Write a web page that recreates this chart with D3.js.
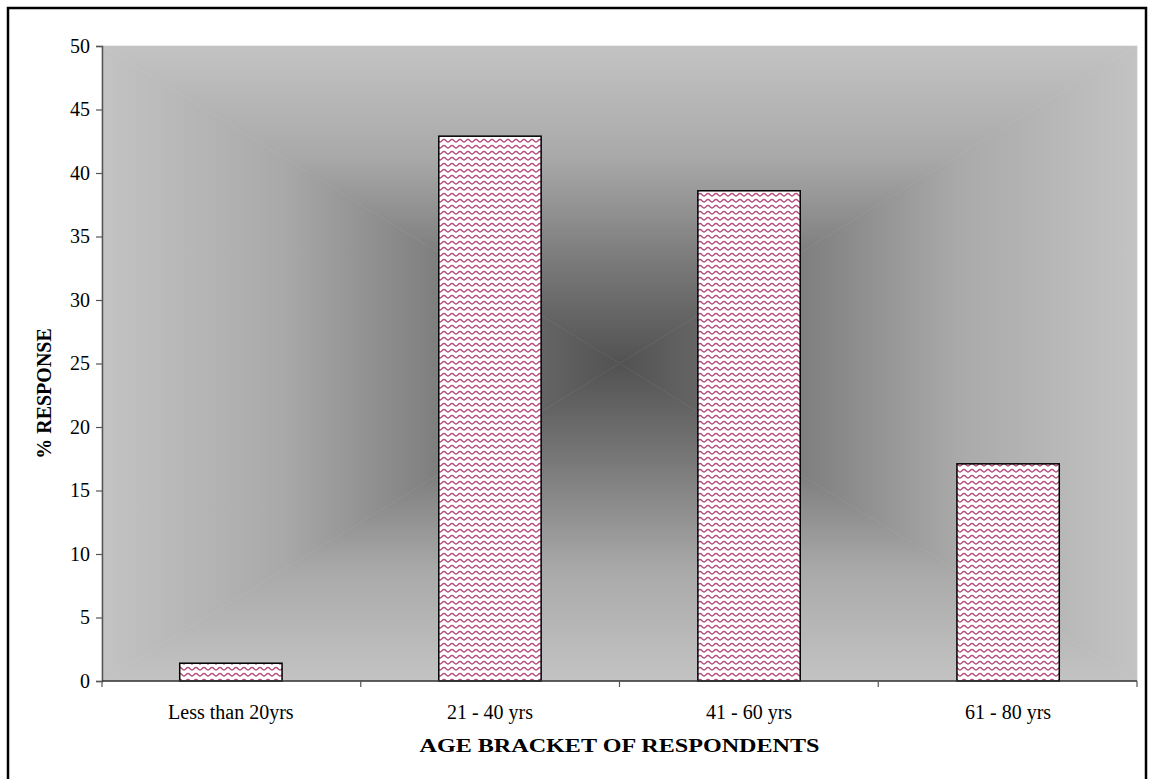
<!DOCTYPE html>
<html>
<head>
<meta charset="utf-8">
<script src="https://cdn.jsdelivr.net/npm/d3@7"></script>
<style>
  html, body { margin: 0; padding: 0; background: #fff; }
  svg { display: block; font-family: "Liberation Serif", "Times New Roman", serif; }
</style>
</head>
<body>
<svg id="chart" width="1153" height="779"></svg>
<script>
// Age distribution of respondents (% response)
const categories = ["Less than 20yrs", "21 - 40 yrs", "41 - 60 yrs", "61 - 80 yrs"];
const values = [1.4, 42.9, 38.6, 17.1];
const yTicks = [0, 5, 10, 15, 20, 25, 30, 35, 40, 45, 50];
const xTitle = "AGE BRACKET OF RESPONDENTS";
const yTitle = "% RESPONSE";

const svg = d3.select("#chart");
const plot = { left: 102, right: 1137, top: 46, bottom: 681 };

const x = d3.scaleBand().domain(categories).range([plot.left, plot.right]).paddingInner(0.605).paddingOuter(0.3);
const y = d3.scaleLinear().domain([0, 50]).range([plot.bottom, plot.top]);

const defs = svg.append("defs");

// Outer chart border
svg.append("rect")
  .attr("x", 8).attr("y", 8).attr("width", 1138).attr("height", 790)
  .attr("fill", "#fff").attr("stroke", "#000").attr("stroke-width", 2.5);

// Rectangular "from centre" gradient: four triangles, each shaded toward the centre
const stops = [[0, "#c3c3c3"], [0.35, "#a9a9a9"], [0.7, "#777"], [1, "#525252"]];
const cx = (plot.left + plot.right) / 2, cy = (plot.top + plot.bottom) / 2;
const tris = [
  { id: "gT", pts: [[plot.left, plot.top], [plot.right, plot.top], [cx, cy]], p1: [cx, plot.top], p2: [cx, cy] },
  { id: "gB", pts: [[plot.left, plot.bottom], [plot.right, plot.bottom], [cx, cy]], p1: [cx, plot.bottom], p2: [cx, cy] },
  { id: "gL", pts: [[plot.left, plot.top], [plot.left, plot.bottom], [cx, cy]], p1: [plot.left, cy], p2: [cx, cy] },
  { id: "gR", pts: [[plot.right, plot.top], [plot.right, plot.bottom], [cx, cy]], p1: [plot.right, cy], p2: [cx, cy] }
];
tris.forEach(t => {
  const g = defs.append("linearGradient").attr("id", t.id)
    .attr("gradientUnits", "userSpaceOnUse")
    .attr("x1", t.p1[0]).attr("y1", t.p1[1]).attr("x2", t.p2[0]).attr("y2", t.p2[1]);
  stops.forEach(s => g.append("stop").attr("offset", s[0]).attr("stop-color", s[1]));
  svg.append("polygon")
    .attr("points", t.pts.map(p => p.join(",")).join(" "))
    .attr("fill", `url(#${t.id})`)
    .attr("stroke", `url(#${t.id})`).attr("stroke-width", 0.6);
});

// Wavy hatch pattern for the bars
const pat = defs.append("pattern").attr("id", "wave")
  .attr("patternUnits", "userSpaceOnUse").attr("width", 8).attr("height", 6);
pat.append("rect").attr("width", 8).attr("height", 6).attr("fill", "#fff");
pat.append("path")
  .attr("d", "M0,4 C2,4 2,1.5 4,1.5 C6,1.5 6,4 8,4")
  .attr("fill", "none").attr("stroke", "#b4517f").attr("stroke-width", 1.3);

// Bars
svg.append("g").selectAll("rect").data(values).join("rect")
  .attr("x", (d, i) => x(categories[i]))
  .attr("y", d => y(d))
  .attr("width", x.bandwidth())
  .attr("height", d => y(0) - y(d))
  .attr("fill", "url(#wave)")
  .attr("stroke", "#000").attr("stroke-width", 1.5);

// Y axis
const yAxis = svg.append("g").attr("transform", `translate(${plot.left},0)`)
  .call(d3.axisLeft(y).tickValues(yTicks).tickSize(6).tickPadding(6));
yAxis.select(".domain").attr("stroke", "#555").attr("stroke-width", 1.5);
yAxis.selectAll(".tick line").attr("stroke", "#555").attr("stroke-width", 1.2);
yAxis.selectAll("text").attr("font-size", 20).attr("fill", "#000")
  .attr("font-family", "Liberation Serif, serif");

// X axis
const xEdges = [plot.left, ...categories.map((c, i) => plot.left + (i + 1) * (plot.right - plot.left) / categories.length)];
const xAxisG = svg.append("g");
xAxisG.append("line")
  .attr("x1", plot.left).attr("x2", plot.right)
  .attr("y1", plot.bottom).attr("y2", plot.bottom)
  .attr("stroke", "#333").attr("stroke-width", 1.5);
xAxisG.selectAll(".xt").data(xEdges).join("line").attr("class", "xt")
  .attr("x1", d => d).attr("x2", d => d)
  .attr("y1", plot.bottom).attr("y2", plot.bottom + 6)
  .attr("stroke", "#555").attr("stroke-width", 1.2);
xAxisG.selectAll("text").data(categories).join("text")
  .attr("x", d => x(d) + x.bandwidth() / 2)
  .attr("y", plot.bottom + 38)
  .attr("text-anchor", "middle")
  .attr("font-size", 20)
  .text(d => d);

// Axis titles
svg.append("text")
  .attr("x", (plot.left + plot.right) / 2).attr("y", 752)
  .attr("text-anchor", "middle").attr("font-size", 19).attr("font-weight", "bold")
  .attr("textLength", 400).attr("lengthAdjust", "spacingAndGlyphs")
  .text(xTitle);
svg.append("text")
  .attr("transform", `translate(51,${(plot.top + plot.bottom) / 2 + 30}) rotate(-90)`)
  .attr("text-anchor", "middle").attr("font-size", 20).attr("font-weight", "bold")
  .text(yTitle);
</script>
</body>
</html>
